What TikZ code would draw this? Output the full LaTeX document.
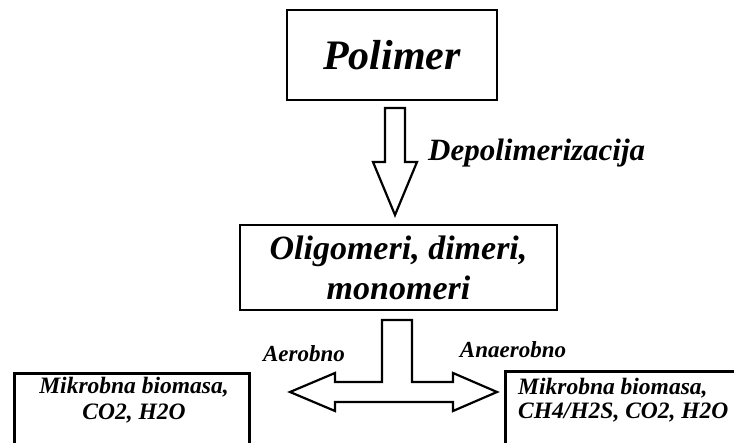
\documentclass[tikz,border=0pt]{standalone}
\usepackage{fontspec}
\setmainfont{Liberation Serif}
\begin{document}
\begin{tikzpicture}[x=1pt,y=-1pt,
  box/.style={draw=black, line width=2.6pt, rectangle, inner sep=0pt},
  blockarrow/.style={draw=black, line width=2.2pt, fill=white, line join=miter},
  lbl/.style={font=\bfseries\itshape, inner sep=0pt}]
\useasboundingbox (0,0) rectangle (734,443);
\clip (0,0) rectangle (734,443);
% boxes
\node[box, minimum width=210, minimum height=90,
      font=\fontsize{42}{46}\selectfont\bfseries\itshape] (pol) at (392,55) {Polimer};
\node[box, minimum width=317, minimum height=85, align=center,
      font=\fontsize{34}{40}\selectfont\bfseries\itshape] (oli) at (398.5,267.5)
      {Oligomeri, dimeri,\\monomeri};
\node[box, minimum width=235, minimum height=80, anchor=north west] (lb) at (13,372) {};
\node[box, minimum width=240, minimum height=80, anchor=north west] (rb) at (504,370) {};
% box texts
\node[lbl, align=center, anchor=north, font=\fontsize{23.5}{26}\selectfont\bfseries\itshape]
      (lbt) at (134,377) {Mikrobna biomasa,\\CO2, H2O};
\node[lbl, align=left, anchor=north west, font=\fontsize{23.5}{24}\selectfont\bfseries\itshape]
      (rbt) at (518,378) {Mikrobna biomasa,\\CH4/H2S, CO2, H2O};
% down arrow
\draw[blockarrow] (385,108) -- (405,108) -- (405,162) -- (417,162) -- (395,215)
      -- (373,162) -- (385,162) -- cycle;
\node[lbl, anchor=base west, font=\fontsize{31}{34}\selectfont\bfseries\itshape]
      (dep) at (428,161) {Depolimerizacija};
% T arrow
\draw[blockarrow] (382,320) -- (412,320) -- (412,382) -- (453,382) -- (453,373)
      -- (497,392) -- (453,411) -- (453,402) -- (335,402) -- (335,411) -- (290,392)
      -- (335,373) -- (335,382) -- (382,382) -- cycle;
\node[lbl, anchor=base, font=\fontsize{23}{26}\selectfont\bfseries\itshape]
      (aer) at (304,362) {Aerobno};
\node[lbl, anchor=base, font=\fontsize{23}{26}\selectfont\bfseries\itshape]
      (ana) at (513,358) {Anaerobno};
\end{tikzpicture}
\end{document}
